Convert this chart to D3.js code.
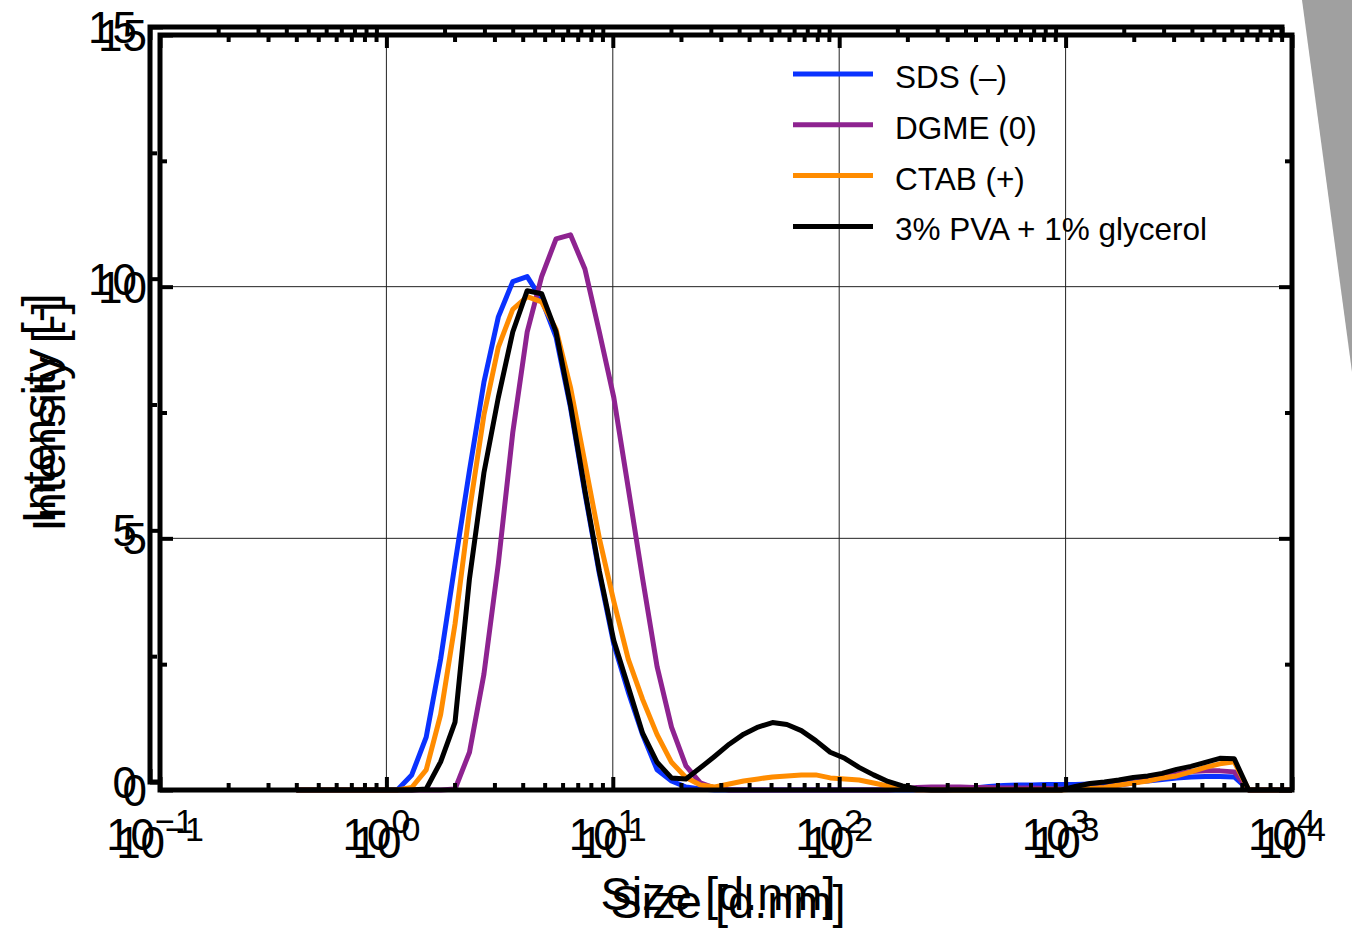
<!DOCTYPE html>
<html><head><meta charset="utf-8">
<script src="https://cdn.jsdelivr.net/npm/d3@7"></script>
<style>html,body{margin:0;padding:0;background:#fff;}svg{display:block;}</style>
</head><body>
<svg id="chart" width="1352" height="931"></svg>
<script>
// ---- data (Zetasizer size bins, d.nm) ----
const sizes = [0.4,0.4632,0.5365,0.6213,0.7195,0.8332,0.9649,1.117,1.294,1.499,1.736,2.01,2.328,2.696,3.122,3.615,4.187,4.849,5.615,6.503,7.531,8.721,10.1,11.7,13.54,15.69,18.17,21.04,24.36,28.21,32.67,37.84,43.82,50.75,58.77,68.06,78.82,91.28,105.7,122.4,141.8,164.2,190.1,220.2,255,295.3,342,396.1,458.7,531.2,615.1,712.4,825,955.4,1106,1281,1484,1718,1990,2305,2669,3091,3580,4145,4801,5560,6439,7456,8635,10000];
const sds  = [0,0,0,0,0,0,0,0,0.3,1.05,2.6,4.5,6.35,8.1,9.4,10.1,10.2,9.75,9.0,7.6,5.9,4.3,2.9,1.95,1.1,0.4,0.18,0.06,0.02,0,0,0,0,0,0,0,0,0,0,0,0,0,0,0,0,0,0.02,0.04,0.07,0.09,0.1,0.1,0.11,0.11,0.11,0.12,0.12,0.14,0.16,0.18,0.21,0.24,0.26,0.27,0.27,0.26,0,0,0,0];
const dgme = [0,0,0,0,0,0,0,0,0,0,0,0.02,0.75,2.3,4.5,7.1,9.1,10.2,10.95,11.03,10.35,9.1,7.8,6.0,4.2,2.45,1.25,0.48,0.14,0.04,0,0,0,0,0,0,0,0,0,0,0,0,0.02,0.05,0.06,0.06,0.06,0.05,0.05,0.04,0.04,0.04,0.03,0.02,0.02,0.03,0.05,0.1,0.14,0.2,0.26,0.32,0.37,0.38,0.38,0.36,0,0,0,0];
const ctab = [0,0,0,0,0,0,0,0,0.05,0.4,1.5,3.3,5.55,7.45,8.8,9.55,9.8,9.7,9.15,8.0,6.5,5.0,3.75,2.6,1.8,1.1,0.55,0.25,0.1,0.06,0.12,0.18,0.22,0.26,0.28,0.3,0.3,0.24,0.22,0.2,0.14,0.08,0.04,0,0,0,0,0,0,0,0,0,0,0,0.02,0.03,0.05,0.1,0.14,0.18,0.24,0.28,0.36,0.45,0.52,0.56,0,0,0,0];
const pva  = [0,0,0,0,0,0,0,0,0,0.02,0.56,1.35,4.2,6.3,7.8,9.1,9.92,9.86,9.1,7.65,5.95,4.35,2.97,2.05,1.13,0.55,0.24,0.22,0.44,0.67,0.91,1.11,1.25,1.34,1.3,1.18,0.98,0.75,0.63,0.45,0.3,0.17,0.08,0.02,0,0,0,0,0,0,0,0,0,0,0.07,0.13,0.16,0.2,0.25,0.28,0.33,0.41,0.47,0.55,0.63,0.62,0,0,0,0];
const seriesNames  = ["SDS (–)","DGME (0)","CTAB (+)","3% PVA + 1% glycerol"];
const seriesColors = ["#0a32ff","#8e2390","#ff8c00","#000000"];
const seriesValues = [sds, dgme, ctab, pva];
const xDecades = [-1,0,1,2,3,4];
const xMinor = [];
for (let e=-1;e<4;e++) for (let m=2;m<=9;m++) xMinor.push(m*Math.pow(10,e));
const yMajor = [0,5,10,15];
const yMinor = [2.5,7.5,12.5];
const yLabels = ["0","5","10","15"];

// ---- layout ----
const L=160, R=1292, T=35, B=790;
const svg = d3.select("#chart");
const x = d3.scaleLog().domain([0.1,10000]).range([L,R]);
const y = d3.scaleLinear().domain([0,15]).range([B,T]);
const FONT = "'Liberation Sans', Arial, sans-serif";

svg.append("polygon").attr("points","1302,0 1352,0 1352,372").attr("fill","#a0a0a0");

function drawChart(g, main){
  g.append("rect").attr("x",L).attr("y",T).attr("width",R-L).attr("height",B-T).attr("fill","#fff");
  g.append("g").selectAll("line").data([1,10,100,1000]).join("line")
    .attr("x1",d=>x(d)).attr("x2",d=>x(d)).attr("y1",T).attr("y2",B)
    .attr("stroke","#222").attr("stroke-width",1);
  g.append("g").selectAll("line").data([5,10]).join("line")
    .attr("x1",L).attr("x2",R).attr("y1",d=>y(d)).attr("y2",d=>y(d))
    .attr("stroke","#222").attr("stroke-width",1);
  const line = d3.line().x((d,i)=>x(sizes[i])).y(d=>y(d));
  seriesValues.forEach((vals,k)=>{
    g.append("path").datum(vals).attr("d",line).attr("fill","none")
      .attr("stroke",seriesColors[k]).attr("stroke-width",5)
      .attr("stroke-linejoin","round").attr("stroke-linecap","butt");
  });
  const lg = g.append("g");
  seriesNames.forEach((n,k)=>{
    const ly = 74 + k*50.8;
    lg.append("line").attr("x1",793).attr("x2",873).attr("y1",ly).attr("y2",ly)
      .attr("stroke",seriesColors[k]).attr("stroke-width",5);
    lg.append("text").attr("x",895).attr("y",ly+14).attr("font-family",FONT)
      .attr("font-size",31.5).attr("fill","#000").text(n);
  });
  const tk = (axis, tr, vals, size) => {
    g.append("g").attr("transform",tr)
      .call(axis.tickValues(vals).tickSizeInner(size).tickSizeOuter(0).tickFormat(""))
      .call(s=>s.select(".domain").remove())
      .selectAll("line").attr("stroke","#000").attr("stroke-width",4);
  };
  const xMaj = xDecades.map(e=>Math.pow(10,e));
  tk(d3.axisBottom(x), `translate(0,${B})`, xMaj, -13);
  tk(d3.axisBottom(x), `translate(0,${B})`, xMinor, -7);
  tk(d3.axisTop(x), `translate(0,${T})`, xMaj, -13);
  tk(d3.axisTop(x), `translate(0,${T})`, xMinor, -7);
  tk(d3.axisLeft(y), `translate(${L},0)`, yMajor, -13);
  tk(d3.axisLeft(y), `translate(${L},0)`, yMinor, -7);
  tk(d3.axisRight(y), `translate(${R},0)`, yMajor, -13);
  tk(d3.axisRight(y), `translate(${R},0)`, yMinor, -7);
  g.append("rect").attr("x",L).attr("y",T).attr("width",R-L).attr("height",B-T)
    .attr("fill","none").attr("stroke","#000").attr("stroke-width",5);
  xDecades.forEach(e=>{
    const t = g.append("text").attr("x",x(Math.pow(10,e))).attr("y",858)
      .attr("text-anchor","middle").attr("font-family",FONT).attr("font-size",44).attr("fill","#000");
    t.append("tspan").text("10");
    t.append("tspan").attr("font-size",34).attr("dy",-17).text(e<0?"\u2212"+(-e):String(e));
  });
  yMajor.forEach((v,i)=>{
    g.append("text").attr("x",147).attr("y",y(v)).attr("dy","0.36em")
      .attr("text-anchor","end").attr("font-family",FONT).attr("font-size",44).attr("fill","#000").text(yLabels[i]);
  });
  g.append("text").attr("x",(L+R)/2+2).attr("y",918).attr("text-anchor","middle")
    .attr("font-family",FONT).attr("font-size",47).attr("fill","#000").text("Size [d.nm]");
  g.append("text").attr("transform",`translate(65,${(T+B)/2+4}) rotate(-90)`).attr("text-anchor","middle")
    .attr("font-family",FONT).attr("font-size",47).attr("fill","#000").text("Intensity [-]");
}

drawChart(svg.append("g").attr("transform","translate(-10,-8)"), false);
drawChart(svg.append("g"), true);
</script>
</body></html>
